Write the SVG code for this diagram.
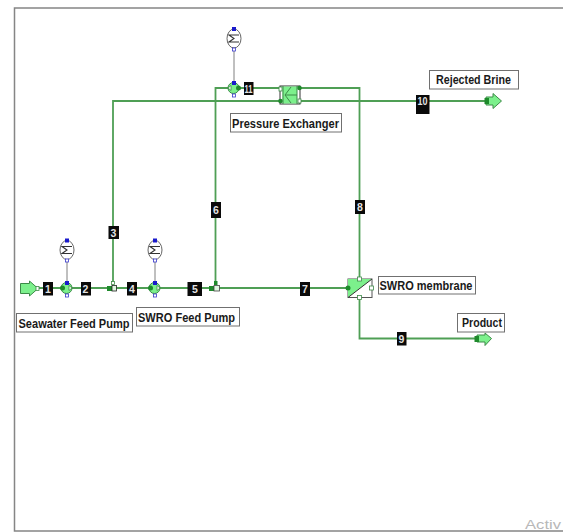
<svg xmlns="http://www.w3.org/2000/svg" width="563" height="532" viewBox="0 0 563 532">
<style>
.pipe{fill:none;stroke:#4f9f55;stroke-width:1.8}
.sig{fill:none;stroke:#808080;stroke-width:1}
.sigma{fill:none;stroke:#333;stroke-width:1.1}
.tag{fill:#0a0a0a}
.tagt{fill:#e4e4e4;font:bold 10.5px "Liberation Sans",sans-serif;text-anchor:middle}
.lab{fill:#fff;stroke:#707070;stroke-width:1}
.labt{fill:#1a1a1a;font:bold 12.5px "Liberation Sans",sans-serif}
.eq{fill:#7cf08c;stroke:#3d8a48;stroke-width:1}
.fill{fill:#7cf08c}
.port{fill:#1f8a2c}
.blue{fill:#1a1acc}
.open{fill:#fff;stroke:#3d8a48;stroke-width:.8}
.openb{fill:#fff;stroke:#3a3acc;stroke-width:.8}
.cool{fill:#fff;stroke:#666;stroke-width:1}
.edge{fill:none;stroke:#858585;stroke-width:1.5}
</style>
<path class="edge" d="M563 8H14.500V531H563"/>
<g id="connectors">
<path class="pipe" d="M38 288H108M116 288H150M160 288H209M219 288H348"/>
<path class="pipe" d="M113 284V101H281"/>
<path class="pipe" d="M215.500 285V88H229"/>
<path class="pipe" d="M240 88H281"/>
<path class="pipe" d="M299 88H359.500V279"/>
<path class="pipe" d="M299 101H486"/>
<path class="pipe" d="M359.500 298V338.500H476"/>
<path class="sig" d="M67 262V282M155 262V282M234 51V82"/>
</g>
<g id="n1"><rect class="tag" x="43" y="282" width="10" height="13.500"/><text class="tagt" x="48" y="292.500">1</text></g>
<g id="n2"><rect class="tag" x="81" y="282" width="10" height="13.500"/><text class="tagt" x="85.500" y="292.500">2</text></g>
<g id="n3"><rect class="tag" x="108.500" y="226" width="10.500" height="13"/><text class="tagt" x="113.500" y="236.500">3</text></g>
<g id="n4"><rect class="tag" x="127" y="282" width="10" height="13.500"/><text class="tagt" x="132" y="292.500">4</text></g>
<g id="n5"><rect class="tag" x="187.500" y="282" width="14.500" height="14"/><text class="tagt" x="195" y="292.500">5</text></g>
<g id="n6"><rect class="tag" x="211" y="202" width="10" height="16"/><text class="tagt" x="216" y="213.500">6</text></g>
<g id="n7"><rect class="tag" x="300" y="282" width="10" height="14"/><text class="tagt" x="305" y="292.500">7</text></g>
<g id="n8"><rect class="tag" x="355" y="200" width="10" height="14"/><text class="tagt" x="360" y="210.500">8</text></g>
<g id="n9"><rect class="tag" x="397" y="332" width="9.500" height="13.500"/><text class="tagt" x="401.500" y="342.500">9</text></g>
<g id="n10"><rect class="tag" x="416" y="95" width="13.500" height="19"/><text class="tagt" x="422.500" y="105" textLength="10" lengthAdjust="spacingAndGlyphs">10</text></g>
<g id="n11"><rect class="tag" x="244" y="82" width="9.500" height="13"/><text class="tagt" x="248.500" y="92.500" textLength="8" lengthAdjust="spacingAndGlyphs">11</text></g>
<g id="seawater-in"><path class="eq" d="M20.500 283.500H29.500V281L38 288.500L29.500 296V293.500H20.500Z"/><rect class="open" x="36" y="286.500" width="3" height="4"/></g>
<g id="rejected-out"><path class="eq" d="M486 97H493V93.500L501.500 101L493 108.500V105H486Z"/><rect class="port" x="484.500" y="98" width="4.500" height="6"/></g>
<g id="product-out"><path class="eq" d="M477 335H485V333L491.500 338.500L485 345.500V342H477Z"/><rect class="port" x="474.500" y="336" width="4.500" height="6"/></g>
<g id="pump1"><circle class="eq" cx="66.500" cy="288" r="5.500"/><circle class="port" cx="62.500" cy="288" r="2.500"/><path class="open" d="M69 285.500L72 288L69 290.500Z"/><rect class="blue" x="65" y="281" width="4" height="4"/><rect class="openb" x="65.500" y="294" width="3" height="3"/></g>
<g id="pump2"><circle class="eq" cx="154.500" cy="288" r="5.500"/><circle class="port" cx="150.500" cy="288" r="2.500"/><path class="open" d="M157 285.500L160 288L157 290.500Z"/><rect class="blue" x="153" y="281" width="4" height="4"/><rect class="openb" x="153.500" y="294" width="3" height="3"/></g>
<g id="pump3"><circle class="eq" cx="233.500" cy="88" r="5.500"/><circle class="port" cx="238.500" cy="88" r="2.500"/><path class="open" d="M231 85.500L228 88L231 90.500Z"/><rect class="blue" x="232" y="81" width="4" height="4"/><rect class="openb" x="232.500" y="94" width="3" height="3"/></g>
<g id="motor1"><ellipse class="cool" cx="67" cy="250" rx="7" ry="9.500"/><path class="sigma" d="M72 246.500H62L67 250L62 253.500H72"/><rect class="blue" x="65" y="238.500" width="4" height="4"/><rect class="openb" x="65.500" y="259" width="3" height="3"/></g>
<g id="motor2"><ellipse class="cool" cx="155" cy="250" rx="7" ry="9.500"/><path class="sigma" d="M160 246.500H150L155 250L150 253.500H160"/><rect class="blue" x="153" y="238.500" width="4" height="4"/><rect class="openb" x="153.500" y="259" width="3" height="3"/></g>
<g id="motor3"><ellipse class="cool" cx="234" cy="38.500" rx="7" ry="9.500"/><path class="sigma" d="M239 35H229L234 38.500L229 42H239"/><rect class="blue" x="232" y="27" width="4" height="4"/><rect class="openb" x="232.500" y="48" width="3" height="3"/></g>
<g id="mixer1"><rect class="port" x="107" y="286" width="5" height="5"/><rect x="112" y="285.500" width="4.500" height="5.500" fill="#dff5e0" stroke="#222" stroke-width=".8"/><rect class="open" x="111.500" y="281.500" width="3" height="3"/></g>
<g id="mixer2"><rect class="port" x="209" y="286" width="5" height="5"/><rect x="214" y="285.500" width="5.500" height="5.500" fill="#dff5e0" stroke="#444" stroke-width=".8"/><rect class="port" x="214" y="281" width="3.500" height="4"/></g>
<g id="pressure-exchanger"><rect x="280" y="86" width="20" height="18" fill="#fff" stroke="#333" stroke-width="1"/><rect class="fill" x="282.500" y="86.500" width="14.500" height="17"/><path d="M297 86V104M283 86V104" stroke="#3d8a48" fill="none"/><path d="M285 95L291 87M285 95L291 103M285 95H297" stroke="#3d8a48" stroke-width="1" fill="none"/><rect class="open" x="279" y="87" width="3" height="4"/><circle class="port" cx="299.500" cy="88" r="2.300"/><circle class="port" cx="280.500" cy="101" r="2.300"/><rect class="open" x="298" y="99" width="3" height="4"/></g>
<g id="membrane"><rect x="348" y="279" width="24" height="18.500" fill="#fff" stroke="#555" stroke-width="1"/><path d="M348 279H372L348 297.500Z" class="fill"/><path d="M348 297.500L372 279" stroke="#333" fill="none"/><circle class="port" cx="348" cy="288" r="2.500"/><rect class="open" x="357.500" y="277" width="4" height="4"/><rect class="open" x="357.500" y="295.500" width="4" height="4"/><rect class="open" x="369.500" y="286" width="4" height="4"/></g>
<g id="l1"><rect class="lab" x="16.500" y="313.500" width="116" height="18.500"/><text class="labt" x="18.500" y="327.500" textLength="111" lengthAdjust="spacingAndGlyphs">Seawater Feed Pump</text></g>
<g id="l2"><rect class="lab" x="136.500" y="307.500" width="103" height="18.500"/><text class="labt" x="138" y="321.500" textLength="97" lengthAdjust="spacingAndGlyphs">SWRO Feed Pump</text></g>
<g id="l3"><rect class="lab" x="230.500" y="113.500" width="111" height="18.500"/><text class="labt" x="232" y="127.500" textLength="107" lengthAdjust="spacingAndGlyphs">Pressure Exchanger</text></g>
<g id="l4"><rect class="lab" x="429.500" y="70.500" width="89" height="18.500"/><text class="labt" x="436" y="84" textLength="75" lengthAdjust="spacingAndGlyphs">Rejected Brine</text></g>
<g id="l5"><rect class="lab" x="378.500" y="276.500" width="97" height="17.500"/><text class="labt" x="379.500" y="290" textLength="93" lengthAdjust="spacingAndGlyphs">SWRO membrane</text></g>
<g id="l6"><rect class="lab" x="457.500" y="313.500" width="47" height="18.500"/><text class="labt" x="462" y="327" textLength="40" lengthAdjust="spacingAndGlyphs">Product</text></g>
<text x="525" y="528.500" fill="#b8b8b8" font-family="Liberation Sans, sans-serif" font-size="12" textLength="36" lengthAdjust="spacingAndGlyphs">Activ</text>
</svg>
